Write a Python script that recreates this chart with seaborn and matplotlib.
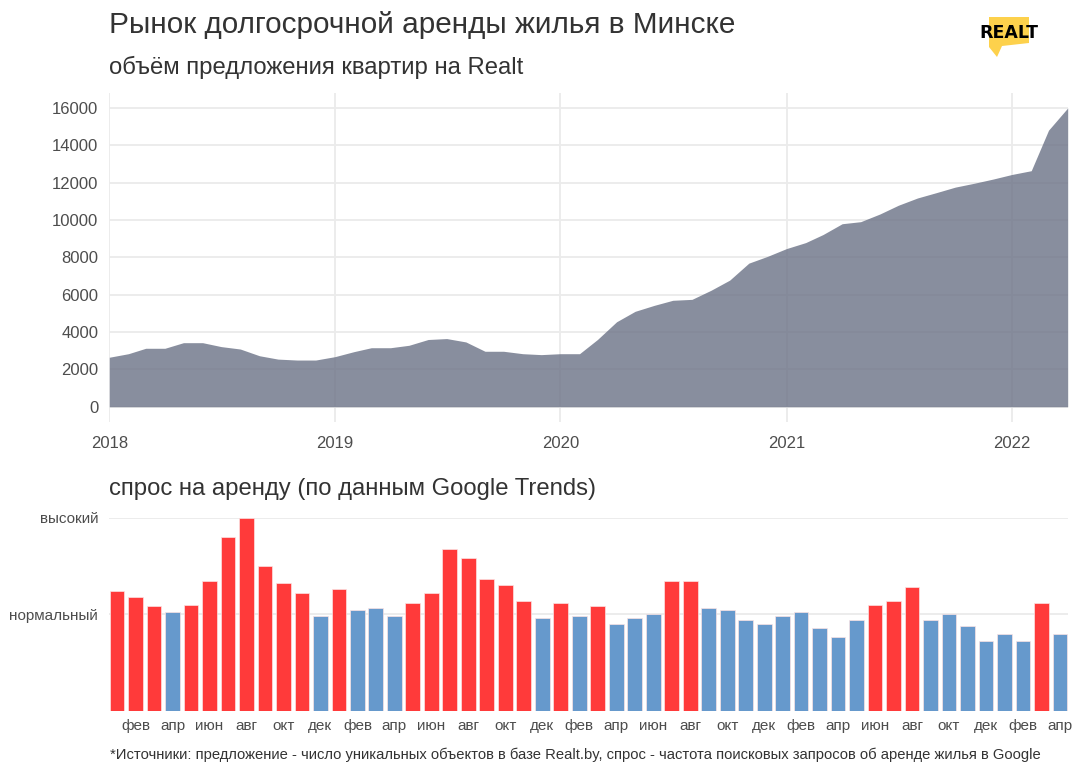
import matplotlib
matplotlib.use("Agg")
import matplotlib.dates as mdates
import matplotlib.pyplot as plt
import pandas as pd
import seaborn as sns
from matplotlib.patches import Polygon

# %%
# data

months = pd.date_range("2018-01-01", "2022-04-01", freq="MS")

# offer volume, number of flats on Realt
supply = [
    2650, 2840, 3130, 3130, 3430, 3430, 3220, 3090, 2730, 2550, 2500, 2500,
    2680, 2950, 3160, 3160, 3290, 3600, 3650, 3470, 2970, 2970, 2840, 2790,
    2840, 2840, 3600, 4550, 5110, 5430, 5700, 5750, 6240, 6780, 7690, 8050,
    8470, 8790, 9220, 9800, 9910, 10320, 10790, 11180, 11470, 11760, 11970, 12190,
    12440, 12640, 14810, 16000,
]

# demand, Google Trends index
demand = [
    62, 59, 54, 51, 55, 67, 90, 100, 75, 66, 61, 49,
    63, 52, 53, 49, 56, 61, 84, 79, 68, 65, 57, 48,
    56, 49, 54, 45, 48, 50, 67, 67, 53, 52, 47, 45,
    49, 51, 43, 38, 47, 55, 57, 64, 47, 50, 44, 36,
    40, 36, 56, 40,
]

month_abbr = ["янв", "фев", "мар", "апр", "май", "июн",
              "июл", "авг", "сен", "окт", "ноя", "дек"]
year_ticks = ["2018", "2019", "2020", "2021", "2022"]
demand_ticks = [50, 100]
demand_labels = ["нормальный", "высокий"]

AREA_COL = "#6b7286"
RED = "#ff3a3a"
BLUE = "#6699cc"
GRID = "#ebebeb"
TXT = "#4d4d4d"

# %%
sns.set_theme(style="white")
plt.rcParams["font.family"] = ["Liberation Sans", "DejaVu Sans"]

W, H = 1080, 772
fig = plt.figure(figsize=(W / 100, H / 100), dpi=100)


def px(x, y):
    return x / W, 1 - y / H


# logo layer
ax_logo = fig.add_axes([0, 0, 1, 1])
ax_logo.set_xlim(0, W)
ax_logo.set_ylim(H, 0)
ax_logo.axis("off")
ax_logo.add_patch(
    Polygon(
        [(989, 17), (1029, 17), (1029, 43), (1002, 46), (997, 57), (989, 47)],
        closed=True, color="#fdd14c", lw=0,
    )
)
ax_logo.text(1009, 33, "REALT", ha="center", va="center", fontsize=12.5,
             fontweight="bold", color="black", family="DejaVu Sans")

# %%
# top: supply area
ax1 = fig.add_axes([0.1012, 0.4538, 0.8874, 0.4257])
ax1.set_facecolor("none")
sns.lineplot(x=months, y=supply, ax=ax1, color=AREA_COL, alpha=0.8, lw=0)
ax1.fill_between(months, supply, 0, color=AREA_COL, alpha=0.8, lw=0)
ax1.set_xlim(months[0], months[-1])
ax1.set_ylim(-800, 16800)
ax1.set_yticks(range(0, 16001, 2000))
ax1.set_xticks([pd.Timestamp(y + "-01-01") for y in year_ticks])
ax1.xaxis.set_major_formatter(mdates.DateFormatter("%Y"))
ax1.grid(True, color=GRID, lw=1.3)
ax1.set_axisbelow(True)
ax1.tick_params(length=0, labelsize=12, labelcolor=TXT)
ax1.tick_params(axis="y", pad=8)
ax1.tick_params(axis="x", pad=10)
ax1.set_xlabel("")
ax1.set_ylabel("")
sns.despine(ax=ax1, left=True, bottom=True)

# %%
# bottom: demand bars
df = pd.DataFrame({"idx": range(len(demand)), "val": demand})
df["high"] = df["val"] > 53

ax2 = fig.add_axes([0.1012, 0.0794, 0.8874, 0.25])
ax2.set_facecolor("none")
sns.barplot(
    data=df, x="idx", y="val", hue="high",
    palette={True: RED, False: BLUE}, dodge=False, width=0.8,
    saturation=1, legend=False, edgecolor="#fbe3e3", linewidth=0.5, ax=ax2,
)
ax2.set_xlim(-0.42, len(demand) - 0.58)
ax2.set_ylim(0, 100)
ax2.set_yticks(demand_ticks)
ax2.set_yticklabels(demand_labels)
tick_idx = [i for i in range(len(demand)) if i % 2 == 1]
ax2.set_xticks(tick_idx)
ax2.set_xticklabels([month_abbr[months[i].month - 1] for i in tick_idx])
ax2.yaxis.grid(True, color=GRID, lw=1.3)
ax2.xaxis.grid(False)
ax2.set_axisbelow(True)
ax2.tick_params(length=0, labelcolor=TXT)
ax2.tick_params(axis="y", labelsize=11, pad=8)
ax2.tick_params(axis="x", labelsize=11, pad=6)
ax2.set_xlabel("")
ax2.set_ylabel("")
sns.despine(ax=ax2, left=True, bottom=True)

# %%
# texts
fig.text(*px(109, 25), "Рынок долгосрочной аренды жилья в Минске",
         fontsize=21.4, color="#333333", va="center", ha="left")
fig.text(*px(109, 67), "объём предложения квартир на Realt",
         fontsize=17.2, color="#333333", va="center", ha="left")
fig.text(*px(109, 489), "спрос на аренду (по данным Google Trends)",
         fontsize=17.2, color="#333333", va="center", ha="left")
fig.text(*px(110, 755),
         "*Источники: предложение - число уникальных объектов в базе Realt.by, "
         "спрос - частота поисковых запросов об аренде жилья в Google",
         fontsize=10.6, color="#333333", va="center", ha="left")

fig.savefig("out.png", dpi=100)
